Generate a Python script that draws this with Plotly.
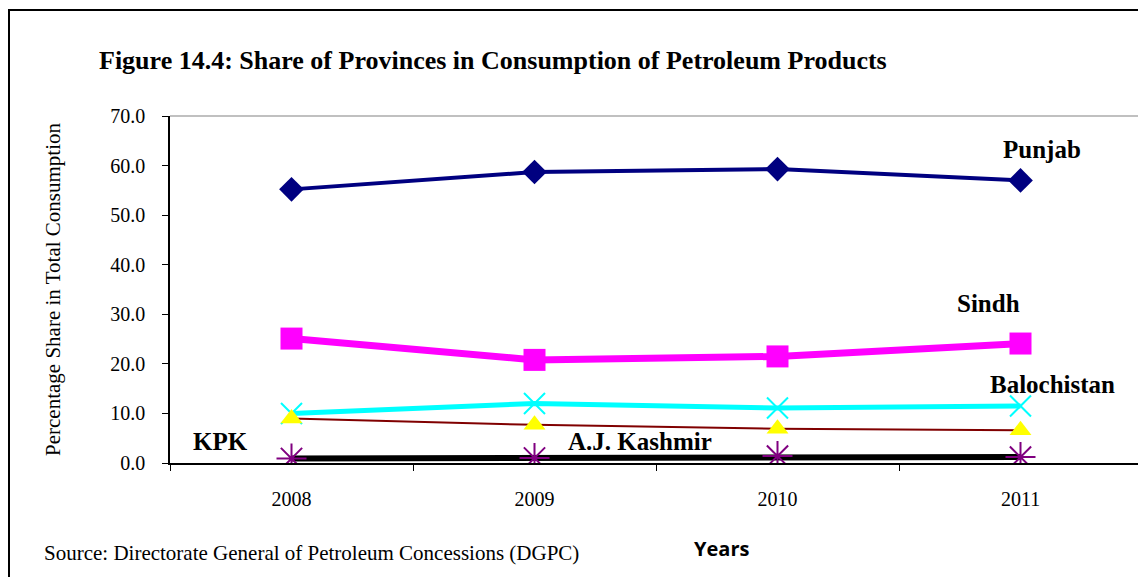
import plotly.graph_objects as go

years = ["2008", "2009", "2010", "2011"]
punjab = [55.2, 58.7, 59.3, 57.0]
sindh = [25.1, 20.8, 21.5, 24.1]
kpk = [10.0, 12.0, 11.1, 11.5]
balochistan = [9.0, 7.7, 6.9, 6.6]
ajk = [0.9, 1.0, 1.4, 1.2]

OFF = 8  # page body margin
W, H = 1146 - OFF, 577 - OFF
L, R, T, B = 170 - OFF, 4, 116 - OFF, 114
PW, PH = W - L - R, H - T - B


def px(x):
    return (x - OFF - L) / PW


def py(y):
    return (H - B - (y - OFF)) / PH


SERIF = "Liberation Serif, Times New Roman, serif"

fig = go.Figure()
fig.add_trace(go.Scatter(x=years, y=punjab, name="Punjab", mode="lines+markers",
                         line=dict(color="#000080", width=4),
                         marker=dict(symbol="diamond", size=19, color="#000080")))
fig.add_trace(go.Scatter(x=years, y=sindh, name="Sindh", mode="lines+markers",
                         line=dict(color="#FF00FF", width=7),
                         marker=dict(symbol="square", size=22, color="#FF00FF")))
fig.add_trace(go.Scatter(x=years, y=kpk, name="KPK", mode="lines+markers",
                         line=dict(color="#00FFFF", width=5),
                         marker=dict(symbol="x-thin", size=21, color="#00FFFF",
                                     line=dict(color="#00FFFF", width=2))))
fig.add_trace(go.Scatter(x=years, y=balochistan, name="Balochistan", mode="lines+markers",
                         line=dict(color="#800000", width=2),
                         marker=dict(symbol="triangle-up", size=19, color="#FFFF00")))
fig.add_trace(go.Scatter(x=years, y=ajk, name="A.J. Kashmir", mode="lines+markers",
                         line=dict(color="#000000", width=6),
                         marker=dict(symbol="asterisk", size=25, color="#800080",
                                     line=dict(color="#800080", width=2))))

fig.update_layout(
    width=W, height=H,
    margin=dict(l=L, r=R, t=T, b=B),
    paper_bgcolor="white", plot_bgcolor="white",
    showlegend=False,
    font=dict(family=SERIF, color="black", size=20),
)
fig.update_xaxes(type="category", range=[-0.5, 3.5], showgrid=False,
                 showline=True, linecolor="black", linewidth=1.5,
                 ticks="outside", tickson="boundaries", ticklen=6, tickcolor="black",
                 ticklabelstandoff=17,
                 tickfont=dict(family=SERIF, size=20), zeroline=False)
fig.update_yaxes(range=[0, 70], dtick=10, tickformat=".1f", showgrid=False,
                 showline=True, linecolor="black", linewidth=1.5,
                 ticks="outside", ticklen=6, tickcolor="black",
                 ticklabelstandoff=13,
                 tickfont=dict(family=SERIF, size=20), zeroline=False,
                 title=dict(text="Percentage Share in Total Consumption",
                            font=dict(family=SERIF, size=21), standoff=44))

shapes = [
    dict(type="line", xref="paper", yref="paper", x0=0, x1=1, y0=1, y1=1,
         line=dict(color="#C0C0C0", width=2)),
    dict(type="line", xref="paper", yref="paper", x0=1, x1=1, y0=0, y1=1,
         line=dict(color="#C0C0C0", width=2)),
    dict(type="line", xref="paper", yref="paper", x0=px(9), x1=px(9), y0=py(10), y1=py(577),
         line=dict(color="black", width=2)),
    dict(type="line", xref="paper", yref="paper", x0=px(8), x1=px(1146), y0=py(10), y1=py(10),
         line=dict(color="black", width=2)),
]
fig.update_layout(shapes=shapes)

ann = []
ann.append(dict(text="<b>Figure 14.4: Share of Provinces in Consumption of Petroleum Products</b>",
                x=px(97), y=py(60), xanchor="left", yanchor="middle",
                font=dict(family=SERIF, size=26)))
labels = [("Punjab", 1042, 149), ("Sindh", 988, 303), ("Balochistan", 1052, 384),
          ("KPK", 220, 441), ("A.J. Kashmir", 640, 441)]
for t, x, y in labels:
    ann.append(dict(text=f"<b>{t}</b>", x=px(x), y=py(y), xanchor="center", yanchor="middle",
                    font=dict(family=SERIF, size=25)))
ann.append(dict(text="<b>Years</b>", x=px(721), y=py(548), xanchor="center", yanchor="middle",
                font=dict(family="Open Sans, sans-serif", size=20)))
ann.append(dict(text="Source: Directorate General of Petroleum Concessions (DGPC)",
                x=px(42), y=py(553), xanchor="left", yanchor="middle",
                font=dict(family=SERIF, size=21)))
for a in ann:
    a.update(xref="paper", yref="paper", showarrow=False)
fig.update_layout(annotations=ann)

fig.write_html("out.html")
